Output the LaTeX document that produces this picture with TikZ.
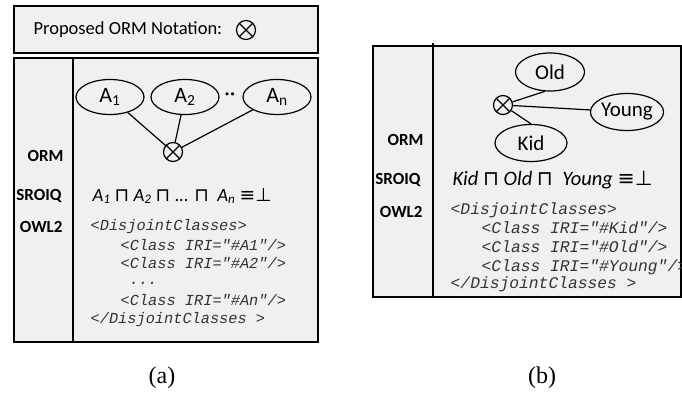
\documentclass[tikz,border=0pt]{standalone}
\usepackage{fontspec}
\setmainfont{Carlito}
\newfontfamily\codefont{Liberation Mono}
\newfontfamily\capfont{Liberation Serif}
\newfontfamily\symfont{DejaVu Sans}
\usetikzlibrary{shapes.geometric}
\tikzset{
  panel/.style={draw, line width=1.3pt, fill=black!6},
  cls/.style={ellipse, draw, line width=1.2pt, inner sep=0pt, font=\fontsize{22}{22}\selectfont},
  disj/.style={circle, draw, line width=1.2pt, minimum size=19pt, inner sep=0pt,
    path picture={\draw[line width=1.2pt] (path picture bounding box.center) +(45:10pt) -- +(225:10pt)
      (path picture bounding box.center) +(135:10pt) -- +(-45:10pt);}},
  lang/.style={anchor=east, font=\fontsize{17}{17}\selectfont\bfseries},
  code/.style={anchor=west, inner sep=0.5pt, font=\fontsize{15.3}{15.3}\codefont\itshape, text=black!80},
  rel/.style={line width=1.2pt},
}
\begin{document}
\begin{tikzpicture}[x=1pt,y=-1pt]
  \useasboundingbox (0,0) rectangle (682,399);
  % (a) general pattern
  \draw[panel] (14,6) rectangle (318,53);
  \node[anchor=west, font=\fontsize{18.5}{18.5}\selectfont] (note) at (30,30) {Proposed ORM Notation:};
  \node[disj] (notesym) at (246,30) {};
  \draw[panel] (14,58) rectangle (318,342);
  \draw[line width=1.3pt] (73,58) -- (73,342);
  \node[cls, minimum width=68pt, minimum height=35pt] (a1) at (110,97) {A\textsubscript{1}};
  \node[cls, minimum width=68pt, minimum height=35pt] (a2) at (185,97) {A\textsubscript{2}};
  \node[cls, minimum width=68pt, minimum height=35pt] (an) at (277,97) {A\textsubscript{n}};
  \node[font=\fontsize{22}{22}\selectfont, inner sep=0pt] (gap) at (230,97) {··};
  \node[disj] (xa) at (173,152) {};
  \draw[rel] (a1) -- (xa);
  \draw[rel] (a2) -- (xa);
  \draw[rel] (an) -- (xa);
  \node[lang] (orma) at (67,156) {ORM};
  \node[lang] (sroiqa) at (65,196) {SROIQ};
  \node[lang] (owla) at (66,227) {OWL2};
  \node[anchor=west, font=\fontsize{18.7}{18.7}\selectfont] (axa) at (89,196)
    {\textit{A\textsubscript{1}} {\symfont ⊓} \textit{A\textsubscript{2}} {\symfont ⊓} ... {\symfont ⊓}\ \ \textit{A\textsubscript{n}} {\symfont ≡}{\symfont ⊥}};
  \node[code] (ca1) at (90,227) {<DisjointClasses>};
  \node[code] (ca2) at (120,245) {<Class IRI="\#A1"/>};
  \node[code] (ca3) at (120,263) {<Class IRI="\#A2"/>};
  \node[code] (ca4) at (129,283) {...};
  \node[code] (ca5) at (120,300) {<Class IRI="\#An"/>};
  \node[code] (ca6) at (90,320) {</DisjointClasses >};
  % (b) example
  \draw[panel] (373,46) rectangle (681,297);
  \draw[line width=1.3pt] (433,43) -- (433,297);
  \node[cls, minimum width=69pt, minimum height=38pt, font=\fontsize{21}{21}\selectfont] (old) at (550,72) {Old};
  \node[cls, minimum width=70pt, minimum height=37pt, font=\fontsize{21}{21}\selectfont] (young) at (627,112) {Young};
  \node[cls, minimum width=72pt, minimum height=37pt, font=\fontsize{21}{21}\selectfont] (kid) at (531,143) {Kid};
  \node[disj] (xb) at (503,105) {};
  \draw[rel] (xb) -- (old.255);
  \draw[rel] (xb) -- (young);
  \draw[rel] (xb) -- (kid.north);
  \node[lang] (ormb) at (427,140) {ORM};
  \node[lang] (sroiqb) at (424,180) {SROIQ};
  \node[lang] (owlb) at (426,212) {OWL2};
  \node[anchor=west, font=\fontsize{20.5}{20.5}\selectfont] (axb) at (449,180)
    {\textit{Kid} {\symfont ⊓} \textit{Old} {\symfont ⊓}\ \ \textit{Young} {\symfont ≡}{\symfont ⊥}};
  \node[code, font=\fontsize{16.3}{16.3}\codefont\itshape] (cb1) at (450,210) {<DisjointClasses>};
  \node[code, font=\fontsize{16.3}{16.3}\codefont\itshape] (cb2) at (481,228) {<Class IRI="\#Kid"/>};
  \node[code, font=\fontsize{16.3}{16.3}\codefont\itshape] (cb3) at (481,247) {<Class IRI="\#Old"/>};
  \node[code, font=\fontsize{16.3}{16.3}\codefont\itshape] (cb4) at (481,267) {<Class IRI="\#Young"/>};
  \node[code, font=\fontsize{16.3}{16.3}\codefont\itshape] (cb5) at (450,284) {</DisjointClasses >};
  % captions
  \node[font=\fontsize{24}{24}\capfont] (capa) at (162,378) {(a)};
  \node[font=\fontsize{24}{24}\capfont] (capb) at (542,378) {(b)};
\end{tikzpicture}
\end{document}
